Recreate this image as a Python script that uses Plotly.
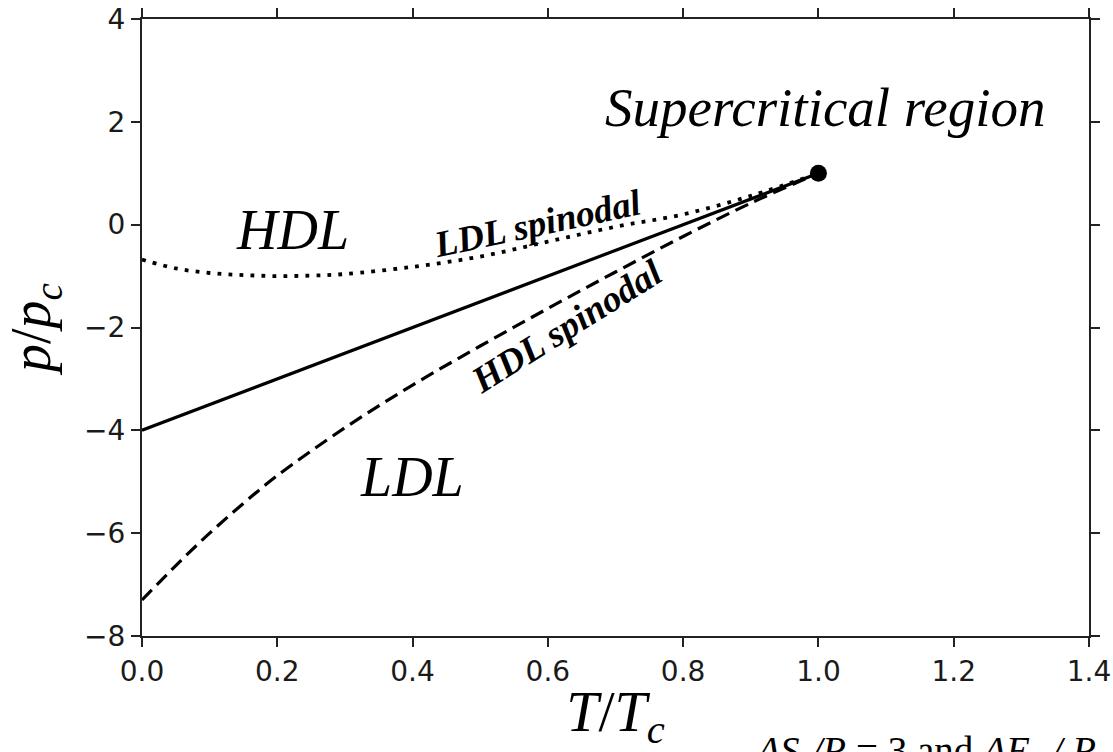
import plotly.graph_objects as go

# Coexistence line (solid)
coex_T = [0.0, 1.0]
coex_p = [-4.0, 1.0]

# LDL spinodal (dotted)
ldl_T = [0.0, 0.05, 0.10, 0.15, 0.20, 0.25, 0.30, 0.40, 0.50, 0.60, 0.70, 0.80, 0.90, 1.0]
ldl_p = [-0.68, -0.85, -0.94, -0.98, -1.00, -0.99, -0.96, -0.82, -0.62, -0.33, -0.04, 0.20, 0.56, 1.0]

# HDL spinodal (dashed)
hdl_T = [0.0, 0.05, 0.10, 0.15, 0.20, 0.30, 0.40, 0.50, 0.60, 0.70, 0.80, 0.90, 1.0]
hdl_p = [-7.30, -6.63, -6.00, -5.42, -4.88, -3.95, -3.12, -2.36, -1.63, -0.92, -0.23, 0.42, 1.0]

# Critical point
crit_T = [1.0]
crit_p = [1.0]

x_ticks = [0.0, 0.2, 0.4, 0.6, 0.8, 1.0, 1.2, 1.4]
y_ticks = [-8, -6, -4, -2, 0, 2, 4]

fig = go.Figure()
fig.add_trace(go.Scatter(x=hdl_T, y=hdl_p, mode="lines", line_shape="spline",
                         line=dict(color="black", width=3.2, dash="14px,7px"),
                         showlegend=False, hoverinfo="skip"))
fig.add_trace(go.Scatter(x=ldl_T, y=ldl_p, mode="lines", line_shape="spline",
                         line=dict(color="black", width=3.8, dash="3.8px,7.2px"),
                         showlegend=False, hoverinfo="skip"))
fig.add_trace(go.Scatter(x=coex_T, y=coex_p, mode="lines",
                         line=dict(color="black", width=3.2),
                         showlegend=False, hoverinfo="skip"))
fig.add_trace(go.Scatter(x=crit_T, y=crit_p, mode="markers",
                         marker=dict(color="black", size=17),
                         showlegend=False, hoverinfo="skip"))

serif = "Liberation Serif"
ann = [
    dict(x=1.01, y=2.28, text="<i>Supercritical region</i>", font=dict(family=serif, size=55, color="black")),
    dict(x=0.223, y=-0.1, text="<i>HDL</i>", font=dict(family=serif, size=56, color="black")),
    dict(x=0.399, y=-4.90, text="<i>LDL</i>", font=dict(family=serif, size=56, color="black")),
    dict(x=0.584, y=0.02, text="<b><i>LDL spinodal</i></b>", textangle=-12,
         font=dict(family=serif, size=37, color="black")),
    dict(x=0.627, y=-1.98, text="<b><i>HDL spinodal</i></b>", textangle=-32,
         font=dict(family=serif, size=37, color="black")),
]
for a in ann:
    fig.add_annotation(xref="x", yref="y", showarrow=False, xanchor="center", yanchor="middle", **a)

fig.add_annotation(xref="paper", yref="paper", x=0.645, y=-0.19, xanchor="left", yanchor="middle",
                   showarrow=False,
                   text="<i>ΔS</i><sub><i>c</i></sub><i>/R</i> = 3 and <i>ΔE</i><sub><i>c</i></sub><i> / R</i>",
                   font=dict(family=serif, size=39, color="black"))

axis_common = dict(showline=True, linecolor="#222", linewidth=2, mirror="allticks",
                   ticks="outside", ticklen=9, tickwidth=2, tickcolor="#222",
                   showgrid=False, zeroline=False, automargin=False,
                   tickfont=dict(family="DejaVu Sans", size=28, color="#1a1a1a"))

fig.update_xaxes(range=[0, 1.4], tickvals=x_ticks, ticktext=[f"{v:.1f}" for v in x_ticks],
                 title=dict(text="<i>T</i>/<i>T</i><sub><i>c</i></sub>",
                            font=dict(family=serif, size=58, color="black"), standoff=12),
                 **axis_common)
fig.update_yaxes(range=[-8, 4], tickvals=y_ticks,
                 ticktext=[str(v).replace("-", "\u2212") for v in y_ticks],
                 title=dict(text="<i>p</i>/<i>p</i><sub><i>c</i></sub>",
                            font=dict(family=serif, size=56, color="black"), standoff=22),
                 **axis_common)

fig.update_layout(width=1113, height=752,
                  margin=dict(l=142, r=24, t=19, b=116),
                  plot_bgcolor="white", paper_bgcolor="white")

fig.write_html("out.html", config={"displayModeBar": False},
               post_script="document.body.style.margin='0';")
